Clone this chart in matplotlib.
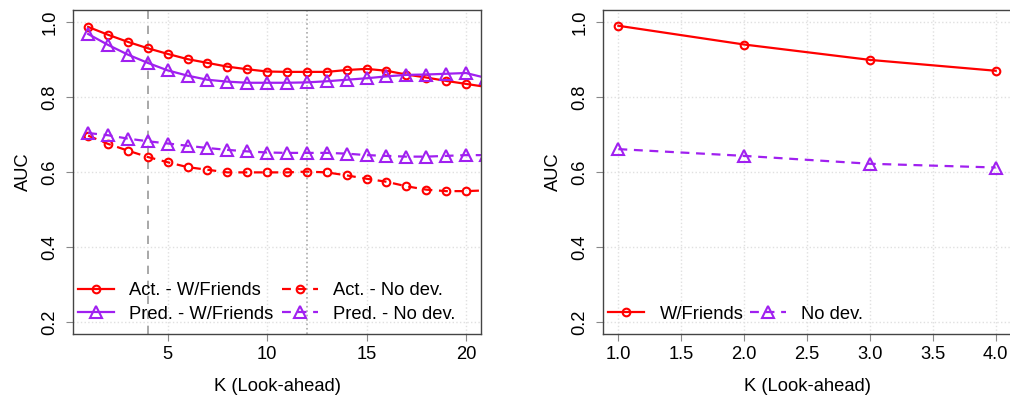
import numpy as np
import matplotlib.pyplot as plt

plt.rcParams['font.family'] = ['Liberation Sans', 'DejaVu Sans']

# left panel data (K = 1..21, axis clipped at ~20.8)
k_left = np.arange(1, 22)
act_friends = [0.987, 0.966, 0.947, 0.930, 0.915, 0.901, 0.891, 0.881, 0.874, 0.868,
               0.867, 0.867, 0.867, 0.872, 0.875, 0.870, 0.860, 0.852, 0.843, 0.835, 0.827]
pred_friends = [0.968, 0.939, 0.913, 0.891, 0.871, 0.857, 0.846, 0.841, 0.838, 0.838,
                0.838, 0.839, 0.842, 0.846, 0.850, 0.855, 0.859, 0.860, 0.862, 0.864, 0.851]
act_nodev = [0.697, 0.675, 0.657, 0.640, 0.626, 0.613, 0.606, 0.599, 0.599, 0.599,
             0.599, 0.601, 0.599, 0.591, 0.582, 0.574, 0.562, 0.553, 0.549, 0.549, 0.551]
pred_nodev = [0.704, 0.698, 0.689, 0.682, 0.676, 0.670, 0.664, 0.659, 0.655, 0.652,
              0.651, 0.651, 0.651, 0.649, 0.645, 0.643, 0.641, 0.641, 0.643, 0.645, 0.645]

# right panel data
k_right = [1, 2, 3, 4]
friends = [0.990, 0.940, 0.899, 0.870]
nodev = [0.661, 0.643, 0.622, 0.612]

RED = '#FF0000'
PURPLE = '#A020F0'
FS = 13.2

fig = plt.figure(figsize=(10.1, 3.96), dpi=100)
ax1 = fig.add_axes([0.0723, 0.1566, 0.4040, 0.8181])
ax2 = fig.add_axes([0.5973, 0.1566, 0.4035, 0.8181])


def style_axes(ax, xticks, xlim):
    ax.set_xlim(*xlim)
    ax.set_ylim(0.168, 1.032)
    ax.set_xticks(xticks)
    ax.set_yticks([0.2, 0.4, 0.6, 0.8, 1.0])
    ax.set_yticklabels(['0.2', '0.4', '0.6', '0.8', '1.0'], rotation=90, va='center')
    ax.grid(True, color='#e0e0e0', linestyle=':', linewidth=1)
    ax.set_axisbelow(True)
    for s in ax.spines.values():
        s.set_color('#444444')
        s.set_linewidth(1)
    ax.tick_params(labelsize=FS, length=5, color='#888888')
    ax.tick_params(axis='x', pad=4)
    ax.tick_params(axis='y', pad=5.5)
    ax.set_xlabel('K (Look-ahead)', fontsize=FS, labelpad=10.5)
    ax.set_ylabel('AUC', fontsize=FS, labelpad=7)


mk = dict(markerfacecolor='none', markeredgewidth=1.5, linewidth=1.6)

ax1.axvline(4, color='#999999', linestyle=(0, (5, 4)), linewidth=1.2)
ax1.axvline(12, color='#aaaaaa', linestyle=':', linewidth=1.2)
ax1.plot(k_left, act_friends, color=RED, marker='o', markersize=5.5, label='Act. - W/Friends', **mk)
ax1.plot(k_left, pred_friends, color=PURPLE, marker='^', markersize=9, label='Pred. - W/Friends', **mk)
ax1.plot(k_left, act_nodev, color=RED, marker='o', markersize=5.5, dashes=(4, 3),
         label='Act. - No dev.', **mk)
ax1.plot(k_left, pred_nodev, color=PURPLE, marker='^', markersize=9, dashes=(4, 3),
         label='Pred. - No dev.', **mk)
style_axes(ax1, [5, 10, 15, 20], (0.24, 20.76))
ax1.legend(ncol=2, loc='lower left', bbox_to_anchor=(0.012, 0.035), frameon=False, fontsize=FS,
           borderpad=0, handlelength=1.95, handletextpad=0.85, columnspacing=0.45,
           labelspacing=0.35, borderaxespad=0)

ax2.plot(k_right, friends, color=RED, marker='o', markersize=5.5, label='W/Friends', **mk)
ax2.plot(k_right, nodev, color=PURPLE, marker='^', markersize=9, dashes=(4, 3),
         label='No dev.', **mk)
style_axes(ax2, [1.0, 1.5, 2.0, 2.5, 3.0, 3.5, 4.0], (0.88, 4.12))
ax2.set_xticklabels(['1.0', '1.5', '2.0', '2.5', '3.0', '3.5', '4.0'])
ax2.legend(ncol=2, loc='lower left', bbox_to_anchor=(0.012, 0.035), frameon=False, fontsize=FS,
           borderpad=0, handlelength=1.95, handletextpad=0.85, columnspacing=0.35,
           borderaxespad=0)

fig.savefig('out.png', dpi=100)
